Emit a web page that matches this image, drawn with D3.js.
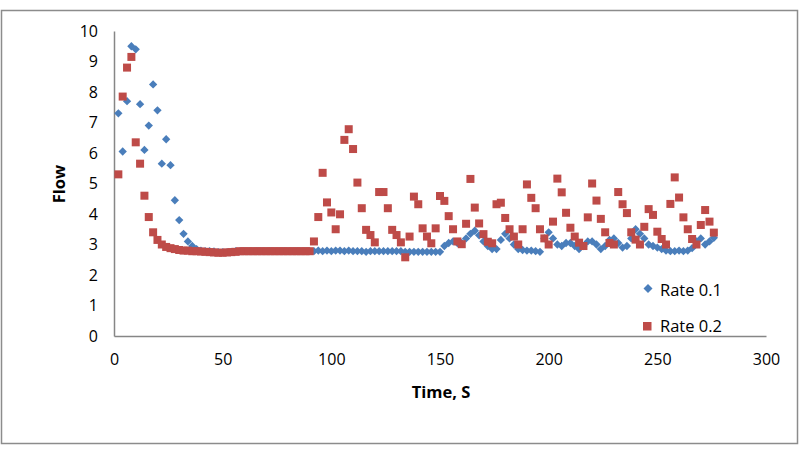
<!DOCTYPE html>
<html>
<head>
<meta charset="utf-8">
<script src="https://cdn.jsdelivr.net/npm/d3@7"></script>
<style>
  html, body { margin: 0; padding: 0; background: #fff; }
  svg { display: block; }
  text { font-family: "Open Sans", "Liberation Sans", sans-serif; fill: #000; }
</style>
</head>
<body>
<svg id="chart" width="800" height="452"></svg>
<script>
// ---- data ----
const times = d3.range(2, 277, 2);
const rate01 = [
  7.3, 6.05, 7.7, 9.5, 9.4, 7.6, 6.1, 6.9, 8.25, 7.4,
  5.65, 6.45, 5.6, 4.45, 3.8, 3.35, 3.1, 2.95, 2.85, 2.8,
  2.78, 2.78, 2.77, 2.75, 2.75, 2.75, 2.76, 2.78, 2.78, 2.78,
  2.78, 2.78, 2.78, 2.78, 2.78, 2.78, 2.78, 2.78, 2.78, 2.78,
  2.78, 2.78, 2.78, 2.78, 2.78, 2.78, 2.8, 2.78, 2.8, 2.78,
  2.8, 2.8, 2.78, 2.8, 2.78, 2.78, 2.78, 2.76, 2.78, 2.78,
  2.78, 2.78, 2.78, 2.78, 2.78, 2.78, 2.76, 2.76, 2.76, 2.76,
  2.76, 2.76, 2.76, 2.76, 2.76, 2.95, 3.05, 3.1, 3.05, 3.05,
  3.2, 3.35, 3.45, 3.3, 3.1, 2.95, 2.85, 2.85, 3.15, 3.35,
  3.2, 3.0, 2.85, 2.82, 2.8, 2.8, 2.78, 2.76, 3.2, 3.4,
  3.2, 3.0, 2.95, 3.05, 3.05, 2.95, 2.85, 2.95, 3.1, 3.1,
  3.0, 2.85, 2.95, 3.15, 3.2, 3.05, 2.9, 2.95, 3.2, 3.5,
  3.35, 3.2, 3.0, 2.95, 2.9, 2.85, 2.8, 2.78, 2.78, 2.8,
  2.78, 2.8, 2.88, 3.1, 3.2, 3.0, 3.1, 3.22
];
const rate02 = [
  5.3, 7.85, 8.8, 9.15, 6.35, 5.65, 4.6, 3.9, 3.4, 3.15,
  3.0, 2.92, 2.88, 2.85, 2.82, 2.8, 2.8, 2.78, 2.78, 2.77,
  2.76, 2.75, 2.74, 2.73, 2.73, 2.74, 2.75, 2.76, 2.78, 2.78,
  2.78, 2.78, 2.78, 2.78, 2.78, 2.78, 2.78, 2.78, 2.78, 2.78,
  2.78, 2.78, 2.78, 2.78, 2.78, 3.1, 3.9, 5.35, 4.38, 4.05,
  3.5, 3.99, 6.43, 6.78, 6.13, 5.03, 4.19, 3.48, 3.31, 3.07,
  4.72, 4.72, 4.19, 3.48, 3.31, 3.07, 2.58, 3.26, 4.57, 4.32,
  3.53, 3.26, 3.04, 3.53, 4.59, 4.43, 3.93, 3.5, 3.1, 3.01,
  3.68, 5.15, 4.21, 3.69, 3.34, 3.09, 3.04, 4.32, 4.37, 3.87,
  3.5, 3.26, 3.0, 3.5, 4.97, 4.53, 4.19, 3.5, 3.2, 3.0,
  3.75, 5.16, 4.71, 4.04, 3.55, 3.26, 3.06, 2.95, 3.89, 5.0,
  4.44, 3.84, 3.4, 3.05, 3.0, 4.72, 4.32, 4.03, 3.4, 3.16,
  3.0, 3.58, 4.16, 3.97, 3.42, 3.18, 3.0, 4.33, 5.2, 4.54,
  3.89, 3.5, 3.18, 3.0, 3.64, 4.13, 3.75, 3.39
];
const xTicks = [0, 50, 100, 150, 200, 250, 300];
const yTicks = [0, 1, 2, 3, 4, 5, 6, 7, 8, 9, 10];
const seriesNames = ["Rate 0.1", "Rate 0.2"];
const colors = ["#4A7EBB", "#BE4B48"];

// ---- layout ----
const svg = d3.select("#chart");
const x = d3.scaleLinear().domain([0, 300]).range([114, 766]);
const y = d3.scaleLinear().domain([0, 10]).range([336, 31]);

// outer border
svg.append("rect").attr("x", 1.5).attr("y", 10.5).attr("width", 796).attr("height", 433)
  .attr("fill", "none").attr("stroke", "#8c8c8c").attr("stroke-width", 1.5);

// axes
const xAxis = svg.append("g").attr("transform", "translate(0,336)")
  .call(d3.axisBottom(x).tickValues(xTicks).tickSize(0).tickPadding(18));
const yAxis = svg.append("g").attr("transform", "translate(114,0)")
  .call(d3.axisLeft(y).tickValues(yTicks).tickSize(0).tickPadding(16));
[xAxis, yAxis].forEach(g => {
  g.select(".domain").attr("stroke", "#868686").attr("stroke-width", 1.5);
  g.selectAll("text").style("font-family", "'Open Sans', sans-serif").style("font-size", "16px").attr("fill", "#000");
});

// axis titles
svg.append("text").attr("x", 441).attr("y", 398).attr("text-anchor", "middle")
  .style("font-size", "16.5px").style("font-weight", "bold").text("Time, S");
svg.append("text").attr("transform", "translate(65,184) rotate(-90)").attr("text-anchor", "middle")
  .style("font-size", "16.5px").style("font-weight", "bold").text("Flow");

// series
const diamond = d3.symbol().type(d3.symbolDiamond2).size(44);
const blue = svg.append("g");
blue.selectAll("path").data(times.map((t, i) => [t, rate01[i]])).join("path")
  .attr("d", diamond)
  .attr("transform", d => `translate(${x(d[0])},${y(d[1])})`)
  .attr("fill", colors[0]);

const red = svg.append("g");
red.selectAll("rect").data(times.map((t, i) => [t, rate02[i]])).join("rect")
  .attr("x", d => x(d[0]) - 4).attr("y", d => y(d[1]) - 4)
  .attr("width", 8).attr("height", 8)
  .attr("fill", colors[1]);

// legend
const lg = svg.append("g");
lg.append("path").attr("d", d3.symbol().type(d3.symbolDiamond2).size(52)).attr("transform", "translate(648,288.5)").attr("fill", colors[0]);
lg.append("text").attr("x", 660).attr("y", 295.5).style("font-size", "16.5px").text(seriesNames[0]);
lg.append("rect").attr("x", 643).attr("y", 322).attr("width", 8.5).attr("height", 8.5).attr("fill", colors[1]);
lg.append("text").attr("x", 660).attr("y", 332).style("font-size", "16.5px").text(seriesNames[1]);
</script>
</body>
</html>
